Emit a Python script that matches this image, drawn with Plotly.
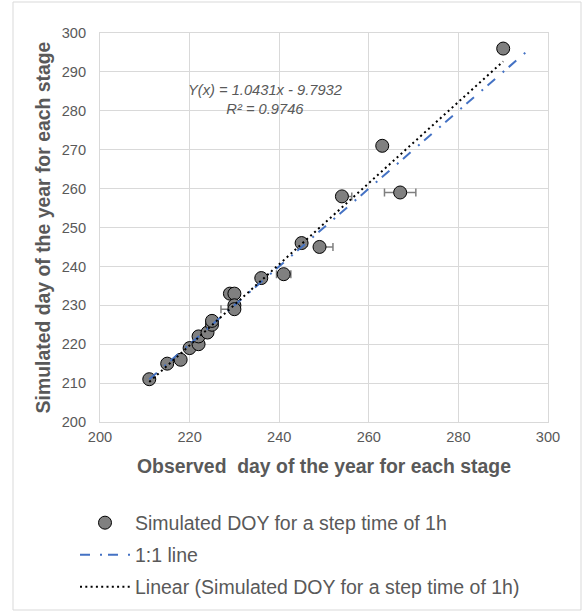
import plotly.graph_objects as go

# Data
observed = [211, 215, 218, 220, 222, 222, 224, 225, 225, 229, 230, 230, 230,
            236, 241, 245, 249, 254, 263, 267, 290]
simulated = [211, 215, 216, 219, 220, 222, 223, 225, 226, 233, 233, 230, 229,
             237, 238, 246, 245, 258, 271, 259, 296]
err_plus = [0, 0, 0, 0, 0, 0, 0, 0, 0, 0, 0, 0, 0,
            0, 1.6, 1.2, 3, 2.2, 0, 3.5, 0]
err_minus = [0, 0, 0, 0, 0, 0, 0, 0, 0, 0, 0, 0, 3,
             0, 1.6, 0, 0, 0, 0, 3.5, 0]

one_to_one_x = [211, 295]
slope = 1.0431
intercept = -9.7932
r2 = 0.9746

x_ticks = [200, 220, 240, 260, 280, 300]
y_ticks = [200, 210, 220, 230, 240, 250, 260, 270, 280, 290, 300]

GRAY_TXT = "#595959"
GRID = "#d9d9d9"
FONT = "Liberation Sans, Arial, sans-serif"

trend_x = [min(observed), max(observed)]
trend_y = [slope * v + intercept for v in trend_x]

fig = go.Figure()

fig.add_trace(go.Scatter(
    x=observed, y=simulated, mode="markers",
    name="Simulated DOY for a step time of 1h",
    marker=dict(size=13, color="#808080", line=dict(color="#000000", width=1)),
    error_x=dict(type="data", symmetric=False, array=err_plus, arrayminus=err_minus,
                 color="#7f7f7f", thickness=1.5, width=4),
    legend="legend",
))

fig.add_trace(go.Scatter(
    x=one_to_one_x, y=one_to_one_x, mode="lines", name="1:1 line",
    line=dict(color="#4472C4", width=2, dash="10px,10px,2px,6px"),
    legend="legend2",
))

fig.add_trace(go.Scatter(
    x=trend_x, y=trend_y, mode="lines",
    name="Linear (Simulated DOY for a step time of 1h)",
    line=dict(color="#000000", width=2, dash="2px,3.3px"),
    legend="legend3",
))

L, R, T, B = 100, 37, 33, 190
W, H = 585, 612
pw = W - L - R
ph = H - T - B

def px_x(p):
    return (p - L) / pw

def px_y(p):
    return (H - B - p) / ph

legend_common = dict(
    xanchor="left", yanchor="middle", x=px_x(75),
    font=dict(family=FONT, size=19.5, color=GRAY_TXT),
    bgcolor="rgba(0,0,0,0)", borderwidth=0, itemwidth=50,
)

fig.update_layout(
    width=W, height=H,
    margin=dict(l=L, r=R, t=T, b=B, pad=0, autoexpand=False),
    paper_bgcolor="white", plot_bgcolor="white",
    font=dict(family=FONT, color=GRAY_TXT),
    showlegend=True,
    legend=dict(y=px_y(523), **legend_common),
    legend2=dict(y=px_y(555), **legend_common),
    legend3=dict(y=px_y(587), **legend_common),
    xaxis=dict(
        range=[200, 300], tickvals=x_ticks, ticktext=[str(v) for v in x_ticks],
        showgrid=True, gridcolor=GRID, gridwidth=1,
        showline=True, linecolor=GRID, linewidth=1, mirror=True,
        zeroline=False, ticks="", ticklen=0, ticklabelstandoff=1,
        automargin=False,
        tickfont=dict(family=FONT, size=14.6, color=GRAY_TXT),
        title=dict(text="Observed  day of the year for each stage",
                   font=dict(family=FONT, size=19.4, color=GRAY_TXT, weight="bold"),
                   standoff=15),
    ),
    yaxis=dict(
        range=[200, 300], tickvals=y_ticks, ticktext=[str(v) for v in y_ticks],
        showgrid=True, gridcolor=GRID, gridwidth=1,
        showline=True, linecolor=GRID, linewidth=1, mirror=True,
        zeroline=False, ticks="", ticklen=0, ticklabelstandoff=10,
        automargin=False,
        tickfont=dict(family=FONT, size=14.6, color=GRAY_TXT),
        title=dict(text="Simulated day of the year for each stage",
                   font=dict(family=FONT, size=19.4, color=GRAY_TXT, weight="bold"),
                   standoff=5),
    ),
    annotations=[dict(
        xref="paper", yref="paper", x=px_x(265), y=px_y(99),
        xanchor="center", yanchor="middle", showarrow=False, align="center",
        text=f"<i>Y(x) = {slope}x - {abs(intercept)}</i><br><i>R² = {r2}</i>",
        font=dict(family=FONT, size=14.7, color=GRAY_TXT),
    )],
    shapes=[dict(
        type="rect", xref="paper", yref="paper",
        x0=px_x(13), x1=px_x(581), y0=px_y(610), y1=px_y(2),
        line=dict(color=GRID, width=1), fillcolor="rgba(0,0,0,0)", layer="below",
    )],
)

fig.write_html(
    "out.html",
    config={"displayModeBar": False},
    post_script="document.body.style.margin='0';document.body.style.padding='0';",
)
